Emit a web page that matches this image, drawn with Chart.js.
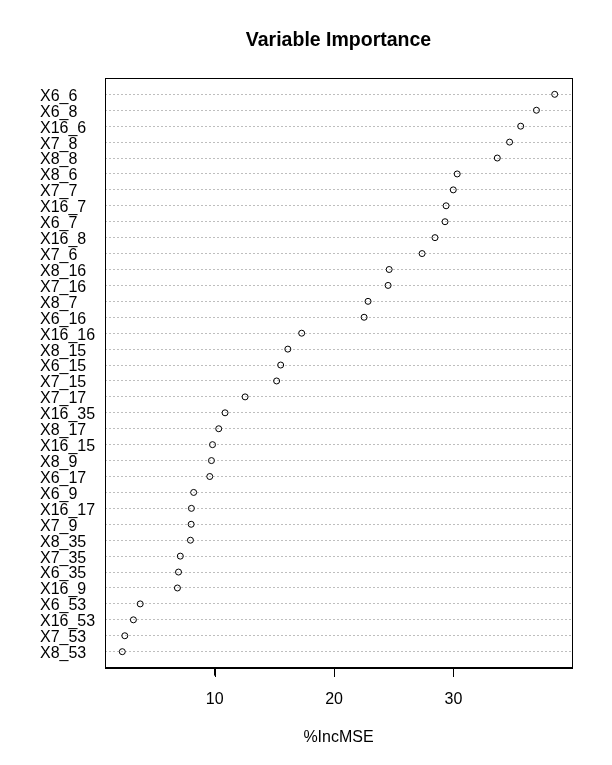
<!DOCTYPE html>
<html>
<head>
<meta charset="utf-8">
<script src="https://cdn.jsdelivr.net/npm/chart.js@4/dist/chart.umd.min.js"></script>
<style>
  html, body { margin: 0; padding: 0; background: #ffffff; }
  #wrap { width: 612px; height: 765px; }
</style>
</head>
<body>
<div id="wrap"><canvas id="c" width="612" height="765"></canvas></div>
<script>
// Variables, top to bottom as shown
const variables = [
  "X6_6", "X6_8", "X16_6", "X7_8", "X8_8", "X8_6", "X7_7", "X16_7", "X6_7",
  "X16_8", "X7_6", "X8_16", "X7_16", "X8_7", "X6_16", "X16_16", "X8_15",
  "X6_15", "X7_15", "X7_17", "X16_35", "X8_17", "X16_15", "X8_9", "X6_17",
  "X6_9", "X16_17", "X7_9", "X8_35", "X7_35", "X6_35", "X16_9", "X6_53",
  "X16_53", "X7_53", "X8_53"
];
// %IncMSE values
const incMSE = [
  38.49, 36.96, 35.64, 34.71, 33.68, 30.32, 29.99, 29.39, 29.30,
  28.46, 27.38, 24.62, 24.53, 22.85, 22.52, 17.29, 16.13,
  15.53, 15.19, 12.55, 10.87, 10.34, 9.82, 9.73, 9.59,
  8.24, 8.05, 8.03, 7.97, 7.12, 6.97, 6.88, 3.76,
  3.19, 2.47, 2.26
];
const xTicks = [10, 20, 30];
const chartTitle = "Variable Importance";
const xTitle = "%IncMSE";

const n = variables.length;
const points = variables.map((v, i) => ({ x: incMSE[i], y: n - i }));
const xMin = Math.min(...incMSE), xMax = Math.max(...incMSE);
const xPad = (xMax - xMin) * 0.04;
const TICK_LEN = 8;

Chart.defaults.font.family = "'Liberation Sans', Arial, sans-serif";
Chart.defaults.color = "#000000";

// Draws the plot frame and the outward x tick marks (positions come from the x scale)
const boxPlugin = {
  id: 'box',
  afterDraw(chart) {
    const a = chart.chartArea;
    const ctx = chart.ctx;
    const xs = chart.scales.x;
    ctx.save();
    ctx.strokeStyle = '#000000';
    ctx.lineWidth = 1;
    ctx.setLineDash([]);
    const L = Math.round(a.left), T = Math.round(a.top);
    const R = Math.round(a.right), B = Math.round(a.bottom);
    ctx.strokeRect(L + 0.5, T + 0.5, R - L, B - T);
    xTicks.forEach(v => {
      const px = Math.round(xs.getPixelForValue(v));
      ctx.fillStyle = '#000000';
      ctx.fillRect(px, B, 1, TICK_LEN + 1);
    });
    ctx.restore();
  }
};

new Chart(document.getElementById('c'), {
  type: 'scatter',
  data: {
    datasets: [{
      data: points,
      pointStyle: 'circle',
      pointRadius: 3,
      pointHoverRadius: 3,
      borderWidth: 1,
      borderColor: '#000000',
      backgroundColor: 'rgba(0,0,0,0)'
    }]
  },
  options: {
    responsive: false,
    animation: false,
    events: [],
    layout: { padding: { left: 40, right: 40, top: 0, bottom: 0 } },
    plugins: {
      legend: { display: false },
      tooltip: { enabled: false },
      title: {
        display: true,
        fullSize: false,
        text: chartTitle,
        font: { size: 19.5, weight: 'bold' },
        color: '#000000',
        padding: { top: 29, bottom: 26 }
      }
    },
    scales: {
      x: {
        type: 'linear',
        min: xMin - xPad,
        max: xMax + xPad,
        afterBuildTicks(axis) { axis.ticks = xTicks.map(v => ({ value: v })); },
        ticks: { font: { size: 16 }, color: '#000000', padding: 14, maxRotation: 0 },
        grid: { display: true, drawOnChartArea: false, drawTicks: true, tickLength: TICK_LEN, tickColor: '#000000', tickWidth: 1, color: '#000000', lineWidth: 1 },
        border: { display: true, color: '#000000', width: 1 },
        title: { display: true, text: xTitle, font: { size: 16 }, color: '#000000', padding: { top: 5, bottom: 18 } }
      },
      y: {
        type: 'linear',
        min: 0,
        max: n + 1,
        afterBuildTicks(axis) { axis.ticks = variables.map((v, i) => ({ value: i + 1 })); },
        afterFit(axis) { axis.width = 65; },
        ticks: {
          font: { size: 16 },
          color: '#000000',
          padding: 10,
          crossAlign: 'far',
          labelOffset: 2,
          autoSkip: false,
          callback: (value) => variables[n - value]
        },
        grid: { drawOnChartArea: true, drawTicks: false, color: '#bebebe', lineWidth: 1 },
        border: { display: false, dash: [2, 2] }
      }
    }
  },
  plugins: [boxPlugin]
});
</script>
</body>
</html>
